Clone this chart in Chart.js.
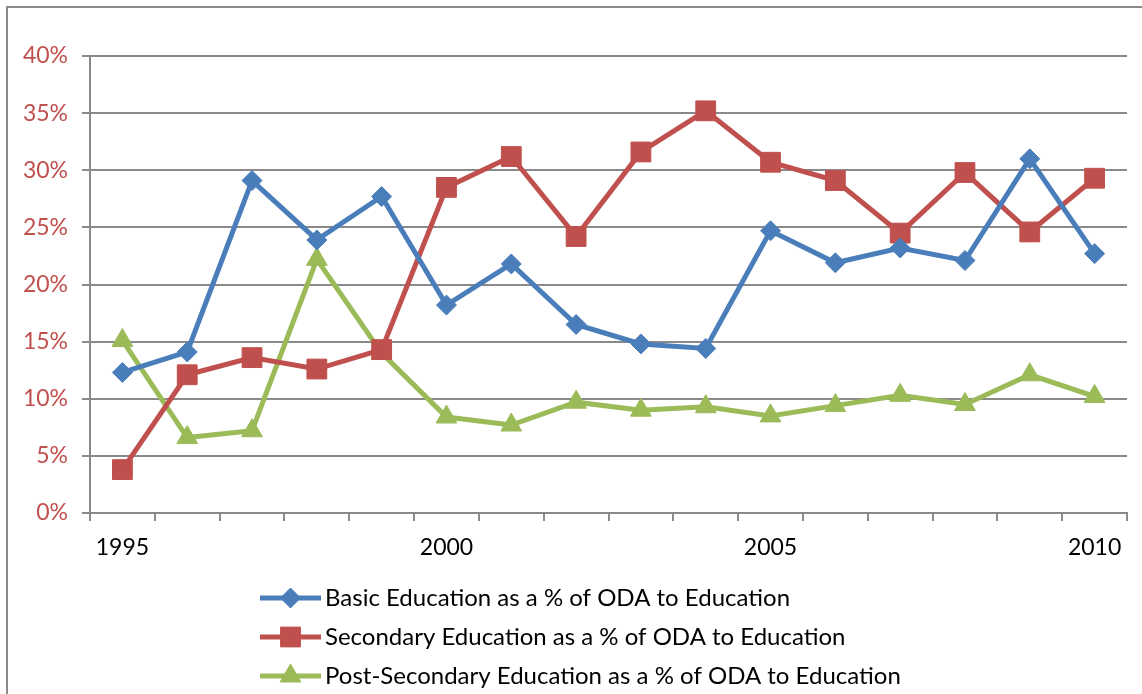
<!DOCTYPE html>
<html>
<head>
<meta charset="utf-8">
<script src="https://cdn.jsdelivr.net/npm/chart.js@4"></script>
<style>
  html, body { margin: 0; padding: 0; background: #fff; overflow: hidden; }
  #wrap { position: relative; width: 1142px; height: 694px; }
  #frame { position: absolute; left: 6px; top: 6px; width: 1200px; height: 800px;
           border-left: 2px solid #8a8a8a; border-top: 2px solid #8a8a8a; }
  canvas { position: absolute; left: 0; top: 0; }
</style>
</head>
<body>
<div id="wrap">
  <div id="frame"></div>
  <canvas id="oda" width="1142" height="694"></canvas>
</div>
<script>
// ODA to education shares, 1995-2010 (values in %)
const years = ['1995','1996','1997','1998','1999','2000','2001','2002',
               '2003','2004','2005','2006','2007','2008','2009','2010'];
const shownYears = ['1995','2000','2005','2010'];

const basicShare = [12.3, 14.1, 29.1, 23.9, 27.7, 18.2, 21.8, 16.5,
                    14.8, 14.4, 24.7, 21.9, 23.2, 22.1, 31.0, 22.7];
const secondaryShare = [3.8, 12.1, 13.6, 12.6, 14.3, 28.5, 31.2, 24.2,
                        31.6, 35.2, 30.7, 29.1, 24.5, 29.8, 24.6, 29.3];
const postSecondaryShare = [15.1, 6.6, 7.2, 22.2, 14.0, 8.4, 7.7, 9.7,
                            9.0, 9.3, 8.5, 9.4, 10.3, 9.5, 12.1, 10.2];

const seriesLabels = [
  'Basic Education as a % of ODA to Education',
  'Secondary Education as a % of ODA to Education',
  'Post-Secondary Education as a % of ODA to Education'
];

const FONT = "Lato, 'Open Sans', sans-serif";
const GRID = '#8a8a8a';

function series(label, data, color, style, radius) {
  return {
    label, data,
    borderColor: color,
    backgroundColor: color,
    borderWidth: 5,
    pointStyle: style,
    pointRadius: radius,
    pointHoverRadius: radius,
    pointBorderWidth: 1,
    pointBorderColor: color,
    pointBackgroundColor: color,
    tension: 0
  };
}

// vertical legend under the axis, Excel style
const stackedLegend = {
  id: 'stackedLegend',
  afterDraw(chart) {
    const ctx = chart.ctx;
    const x0 = 260, x1 = 321, top = 598, gap = 39;
    ctx.save();
    chart.data.datasets.forEach((ds, i) => {
      const y = top + i * gap;
      ctx.strokeStyle = ds.borderColor;
      ctx.lineWidth = ds.borderWidth;
      ctx.beginPath();
      ctx.moveTo(x0, y);
      ctx.lineTo(x1, y);
      ctx.stroke();
      ctx.fillStyle = ds.pointBackgroundColor;
      ctx.lineWidth = 1;
      Chart.helpers.drawPoint(ctx, { pointStyle: ds.pointStyle, radius: ds.pointRadius, borderWidth: 1 },
                              (x0 + x1) / 2, y);
      ctx.fillStyle = '#000';
      ctx.font = '24px ' + FONT;
      ctx.textBaseline = 'middle';
      ctx.textAlign = 'left';
      ctx.fillText(ds.label, x1 + 4, y);
    });
    ctx.restore();
  }
};

new Chart(document.getElementById('oda'), {
  type: 'line',
  data: {
    labels: years,
    datasets: [
      series(seriesLabels[0], basicShare, '#4a7ebb', 'rectRot', 10),
      series(seriesLabels[1], secondaryShare, '#c0504d', 'rect', 14),
      series(seriesLabels[2], postSecondaryShare, '#9bbb59', 'triangle', 12)
    ]
  },
  options: {
    responsive: false,
    animation: false,
    layout: { padding: { top: 56, right: 12, left: 0, bottom: 0 } },
    plugins: { legend: { display: false }, tooltip: { enabled: false } },
    scales: {
      x: {
        offset: true,
        grid: { offset: true, drawOnChartArea: false, drawTicks: true, tickLength: 8,
                color: GRID, lineWidth: 2 },
        border: { color: GRID, width: 2 },
        ticks: {
          autoSkip: false, maxRotation: 0, padding: 13,
          color: '#000', font: { family: FONT, size: 23 },
          callback: (v, i) => shownYears.includes(years[i]) ? years[i] : ''
        },
        afterFit: s => { s.height = 181; }
      },
      y: {
        min: 0, max: 40,
        grid: { color: GRID, lineWidth: 2, tickLength: 8 },
        border: { color: GRID, width: 2 },
        ticks: {
          stepSize: 5, padding: 14,
          color: '#c0504d', font: { family: FONT, size: 23 },
          callback: v => v + '%'
        },
        afterFit: s => { s.width = 90; }
      }
    }
  },
  plugins: [stackedLegend]
});
</script>
</body>
</html>
